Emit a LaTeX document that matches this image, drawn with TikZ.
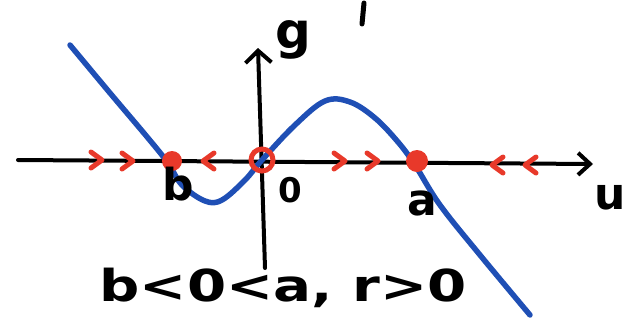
\documentclass[tikz,border=0pt]{standalone}
\usepackage{fontspec}
\setmainfont{DejaVu Sans}
\usetikzlibrary{arrows.meta}
\definecolor{cred}{HTML}{E8392A}
\definecolor{cblue}{HTML}{1F4FB5}
\tikzset{
  ax/.style={line width=4pt,line cap=round,line join=round},
  curve/.style={cblue,line width=5.5pt,line cap=round,line join=round},
  mk/.style={cred,line width=5pt,line cap=round,line join=round},
  lab/.style={inner sep=0pt,font=\bfseries\fontsize{44}{44}\selectfont},
  rchev/.pic={\draw[mk] (-6,-8) -- (5,0) -- (-6,8);},
  lchev/.pic={\draw[mk] (6,-8) -- (-5,0) -- (6,8);}
}
\begin{document}
\begin{tikzpicture}[x=1pt,y=-1pt]
\useasboundingbox (0,0) rectangle (637,333);
% axes
\coordinate (hl) at (18,160);
\coordinate (hr) at (593,164);
\coordinate (vb) at (265,268);
\coordinate (vt) at (258,48);
\draw[ax,-{Straight Barb[length=12pt,width=22pt]}] (hl) -- (hr);
\draw[ax,-{Straight Barb[length=12pt,width=26pt]}] (vb) -- (vt);
% curve
\draw[curve] plot[smooth,tension=0.6] coordinates {(70,45) (110,93) (148,138) (168,163) (182,185) (205,201) (222,200) (245,180) (262,160) (295,125) (325,101) (350,102) (375,118) (398,142) (415,165) (440,205) (480,255) (530,315)};
% equilibria
\coordinate (eb) at (172,161);
\coordinate (e0) at (262,160);
\coordinate (ea) at (417,161);
\fill[cred] (eb) circle (10);
\fill[cred] (ea) circle (11);
\draw[cred,line width=5pt] (e0) circle (11);
% flow chevrons
\pic at (97,160) {rchev};
\pic at (128,161) {rchev};
\pic at (208,161) {lchev};
\pic at (340,161) {rchev};
\pic at (373,161) {rchev};
\pic at (497,165) {lchev};
\pic at (530,165) {lchev};
% labels
\node[lab,font=\bfseries\fontsize{50}{50}\selectfont] (g) at (293,40) {g};
\draw[ax,line width=5pt] (364,3) -- (362,24);
\node[lab] (lb) at (178,184) {b};
\node[lab,font=\bfseries\fontsize{34}{34}\selectfont] (l0) at (290,190) {0};
\node[lab] (la) at (422,203) {a};
\node[lab] (lu) at (610,198) {u};
\node[lab] (cond) at (283,288) {\scalebox{1.28}[1]{b<0<a, r>0}};
\end{tikzpicture}
\end{document}
